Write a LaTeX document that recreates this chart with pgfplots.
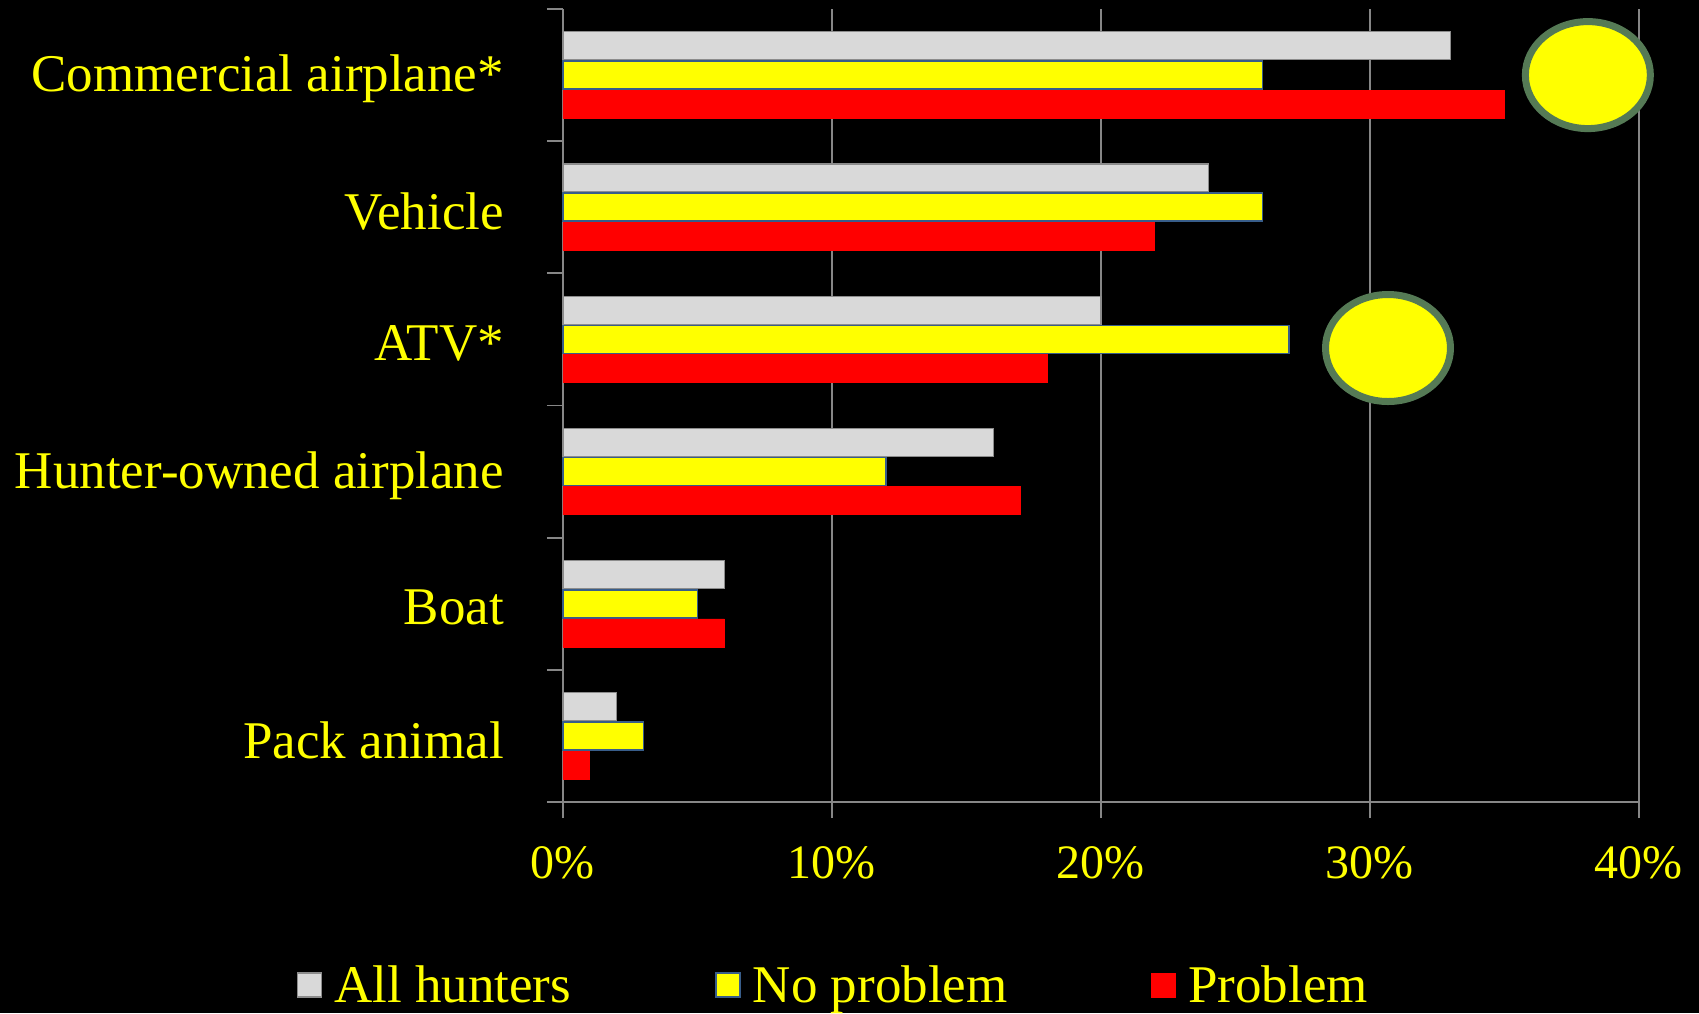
\documentclass[border=0pt]{standalone}
\usepackage{fontspec}
\setmainfont{Liberation Serif}
\usepackage{pgfplots}
\pgfplotsset{compat=1.18}
\definecolor{yel}{RGB}{255,255,0}
\definecolor{rd}{RGB}{255,0,0}
\definecolor{gbar}{HTML}{D9D9D9}
\definecolor{gedge}{HTML}{8C8C8C}
\definecolor{yedge}{HTML}{385D8A}
\definecolor{gridc}{HTML}{868686}
\definecolor{ringc}{HTML}{557A55}
\begin{document}
\begin{tikzpicture}
\path[fill=black, use as bounding box] (-281.5pt,-105.5pt) rectangle (568pt,401pt);
\begin{axis}[
  at={(0pt,0pt)}, anchor=south west,
  width=538pt, height=396.5pt, scale only axis,
  xmin=0, xmax=40, ymin=-0.5, ymax=5.5,
  axis x line*=bottom, axis y line*=left,
  axis line style={gridc, line width=0.9pt, -},
  xtick={0,10,20,30,40}, xticklabels={0\%,10\%,20\%,30\%,40\%},
  ytick={0,1,2,3,4,5},
  yticklabels={Pack animal, Boat, Hunter-owned airplane, ATV*, Vehicle, Commercial airplane*},
  minor ytick={-0.5,0.5,1.5,2.5,3.5,4.5,5.5},
  tick align=outside,
  major tick length=8pt, minor tick length=8pt,
  tick style={gridc, line width=0.9pt},
  major y tick style={draw=none},
  xmajorgrids, grid style={gridc, line width=0.9pt},
  xticklabel style={font=\fontsize{24}{28}\selectfont, text=yel, yshift=-10.7pt},
  yticklabel style={font=\fontsize{26.5}{30}\selectfont, text=yel, xshift=-18pt, yshift=-2pt},
  clip=false,
  legend columns=3,
  legend style={draw=none, fill=none, text=yel, font=\fontsize{26.5}{30}\selectfont,
    at={(rel axis cs:0.2523,-0.232)}, anchor=center,
    /tikz/every odd column/.append style={column sep=4pt},
    /tikz/every even column/.append style={column sep=70pt}},
  legend image code/.code={\draw[#1] (0pt,-5.5pt) rectangle (12pt,6.5pt);},
]
\addplot[xbar, bar width=14pt, bar shift=14.6pt, fill=gbar, draw=gedge, line width=0.6pt]
  coordinates {(2,0) (6,1) (16,2) (20,3) (24,4) (33,5)};
\addlegendentry{All hunters}
\addplot[xbar, bar width=14pt, bar shift=0pt, fill=yel, draw=yedge, line width=0.8pt]
  coordinates {(3,0) (5,1) (12,2) (27,3) (26,4) (26,5)};
\addlegendentry{No problem}
\addplot[xbar, bar width=14pt, bar shift=-14.6pt, fill=rd, draw=rd, line width=0.4pt]
  coordinates {(1,0) (6,1) (17,2) (18,3) (22,4) (35,5)};
\addlegendentry{Problem}
\addplot[forget plot, only marks, mark=*, mark size=26.75pt,
  mark options={xscale=1.168, fill=yel, draw=ringc, line width=3.5pt}]
  coordinates {(38.1,5) (30.67,2.935)};
\end{axis}
\end{tikzpicture}
\end{document}
